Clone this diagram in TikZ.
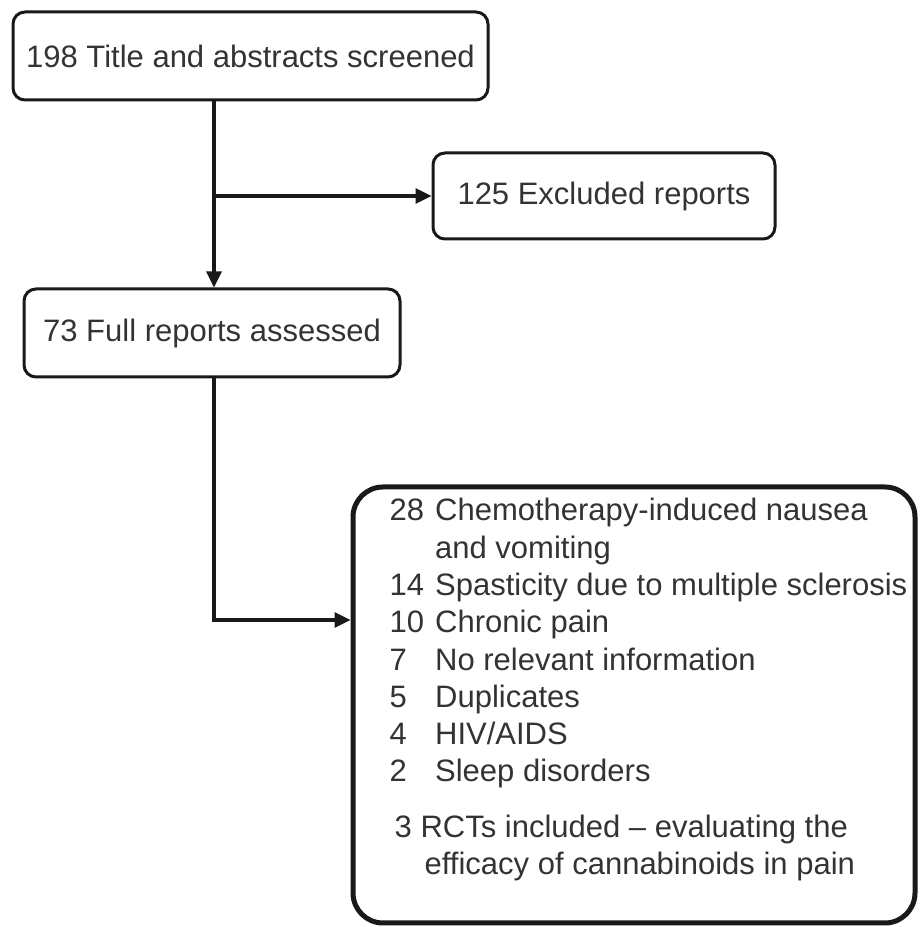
\documentclass[tikz,border=0pt]{standalone}
\usepackage{fontspec}
\setmainfont{Liberation Sans}
\usetikzlibrary{arrows.meta,positioning}

\begin{document}
\begin{tikzpicture}[
  x=1pt, y=1pt,
  box/.style={rectangle, draw=black!90, line width=3pt, rounded corners=12pt, font=\fontsize{31}{37}\selectfont, text=black!80, align=center, inner sep=0pt},
  bigbox/.style={box, line width=5pt, rounded corners=30pt},
  listtext/.style={anchor=north west, inner sep=0pt, font=\fontsize{31}{37.3}\selectfont, text=black!80},
  arr/.style={-{Triangle[length=16pt, width=15pt]}, line width=3.2pt, draw=black!90},
]
  \useasboundingbox (0,0) rectangle (920,927);

  % Screening stages
  \node[box, minimum width=475pt, minimum height=88pt] (screened) at (250.5,871) {198 Title and abstracts screened};
  \node[box, minimum width=342pt, minimum height=86pt] (excluded) at (604,731) {125 Excluded reports};
  \node[box, minimum width=376pt, minimum height=88pt] (full) at (212,594) {73 Full reports assessed};

  % Outcome box
  \node[bigbox, minimum width=562pt, minimum height=436pt] (outcomes) at (634,222) {};
  \node[listtext] (outlist) at ([xshift=39pt, yshift=-10pt]outcomes.north west) {%
    \begin{tabular}[t]{@{}l@{\hspace{11pt}}l@{}}
    28 & Chemotherapy-induced nausea\\
       & and vomiting\\
    14 & Spasticity due to multiple sclerosis\\
    10 & Chronic pain\\
    7  & No relevant information\\
    5  & Duplicates\\
    4  & HIV/AIDS\\
    2  & Sleep disorders\\[18pt]
    \multicolumn{2}{@{\hspace{5pt}}l@{}}{3 RCTs included -- evaluating the}\\
    \multicolumn{2}{@{\hspace{35pt}}l@{}}{efficacy of cannabinoids in pain}
    \end{tabular}};

  % Arrows
  \coordinate (trunk) at (214,731);
  \coordinate (bend) at (214,307);
  \draw[arr] (screened.south -| trunk) -- (full.north -| trunk);
  \draw[arr] (trunk) -- (excluded.west);
  \draw[arr] (full.south -| bend) |- (outcomes.west |- bend);

\end{tikzpicture}
\end{document}
